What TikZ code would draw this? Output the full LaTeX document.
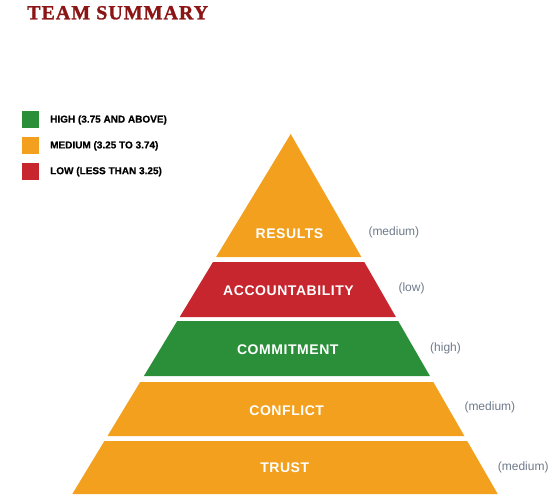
\documentclass[tikz,border=0pt]{standalone}
\usepackage{fontspec}
\setmainfont{Liberation Sans}
\newfontfamily\titlefont[LetterSpace=5,FakeBold=1.2]{Liberation Serif}
\newfontfamily\bandfont[LetterSpace=4]{Liberation Sans}
\newfontfamily\legfont[FakeBold=0.6]{Liberation Sans}
\definecolor{orng}{HTML}{F2A01E}
\definecolor{rd}{HTML}{C8262F}
\definecolor{grn}{HTML}{2B8F3A}
\definecolor{ttl}{HTML}{8B1414}
\definecolor{gry}{HTML}{6E7A8A}
\tikzset{
  band/.style={draw=none},
  bandlbl/.style={anchor=base, inner sep=0pt, text=white, font=\bandfont\bfseries\fontsize{14}{16}\selectfont},
  score/.style={anchor=west, inner sep=0pt, text=gry, font=\fontsize{12}{14}\selectfont},
  legsq/.style={minimum size=17pt, inner sep=0pt, draw=none},
  legtxt/.style={anchor=base west, inner sep=0pt, font=\legfont\bfseries\fontsize{10}{12}\selectfont},
}
\begin{document}
\begin{tikzpicture}[x=1pt,y=-1pt]
\useasboundingbox (0,0) rectangle (557,503);
% title
\node[anchor=base west, inner sep=0pt, text=ttl, font=\titlefont\bfseries\fontsize{20}{24}\selectfont] (title) at (27,19.3) {TEAM SUMMARY};
% legend
\node[legsq, fill=grn] (sqH) at (30.5,119.3) {};
\node[legsq, fill=orng] (sqM) at (30.5,145.4) {};
\node[legsq, fill=rd] (sqL) at (30.5,171.7) {};
\node[legtxt] (tH) at (50,122.6) {HIGH (3.75 AND ABOVE)};
\node[legtxt] (tM) at (50,148.4) {MEDIUM (3.25 TO 3.74)};
\node[legtxt] (tL) at (50,174.2) {LOW (LESS THAN 3.25)};
% pyramid bands
\fill[band, orng] (290.7,134) -- (361.4,257) -- (216.1,257) -- cycle;
\fill[band, rd] (213.0,262) -- (364.3,262) -- (395.9,317) -- (179.7,317) -- cycle;
\fill[band, grn] (177.2,321) -- (398.2,321) -- (429.9,376) -- (143.9,376) -- cycle;
\fill[band, orng] (140.2,382) -- (433.3,382) -- (464.4,436) -- (107.5,436) -- cycle;
\fill[band, orng] (104.4,441) -- (467.2,441) -- (497.7,494) -- (72.3,494) -- cycle;
% band labels
\node[bandlbl] (results) at (289.5,238.3) {RESULTS};
\node[bandlbl] (acc) at (288.5,295) {ACCOUNTABILITY};
\node[bandlbl] (comm) at (287.8,354.3) {COMMITMENT};
\node[bandlbl] (conf) at (286.7,415) {CONFLICT};
\node[bandlbl] (trust) at (284.7,472.7) {TRUST};
% scores
\node[score] (s1) at (368.3,232) {(medium)};
\node[score] (s2) at (398.3,288) {(low)};
\node[score] (s3) at (430,348) {(high)};
\node[score] (s4) at (464.3,407) {(medium)};
\node[score] (s5) at (497.7,467) {(medium)};
\end{tikzpicture}
\end{document}
